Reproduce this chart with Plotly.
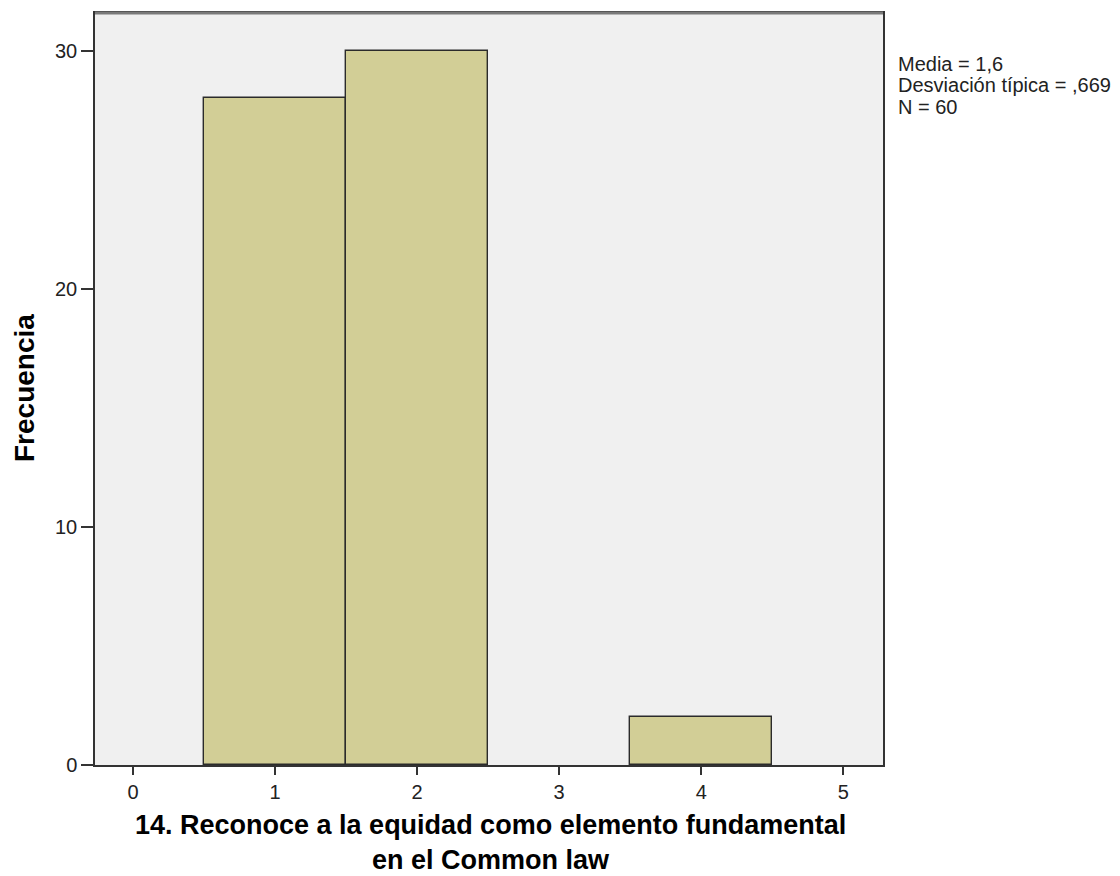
import plotly.graph_objects as go

categories = [1, 2, 4]
counts = [28, 30, 2]
x_ticks = [0, 1, 2, 3, 4, 5]
y_ticks = [0, 10, 20, 30]
stats_lines = ["Media = 1,6", "Desviación típica = ,669", "N = 60"]
x_title_lines = ["14. Reconoce a la equidad como elemento fundamental", "en el Common law"]
y_title = "Frecuencia"

FONT = "Liberation Sans, Arial, sans-serif"

# screen geometry of the plot area (page has an 8px body margin)
PL, PR, PT, PB = 95, 883, 11, 765
PW, PH = PR - PL, PB - PT


def px(xs):
    return (xs - PL) / PW


def py(ys):
    return (PB - ys) / PH


fig = go.Figure()
fig.add_trace(go.Bar(
    x=categories, y=counts, width=1,
    marker=dict(color="#D2CE96", line=dict(color="#2b2b2b", width=1.4)),
    showlegend=False, hoverinfo="x+y",
))

fig.update_layout(
    width=1112, height=868,
    margin=dict(l=PL - 8, r=1120 - PR, t=PT - 8, b=876 - PB),
    paper_bgcolor="white", plot_bgcolor="#F0F0F0",
    font=dict(family=FONT, color="#000"),
    bargap=0,
    xaxis=dict(
        range=[-0.268, 5.28], tickmode="array", tickvals=x_ticks,
        ticks="outside", ticklen=8, tickcolor="#333", tickwidth=1.5,
        showgrid=False, zeroline=False,
        showline=True, linecolor="#333", linewidth=1.5, mirror=True,
        tickfont=dict(size=20, color="#222", family=FONT),
    ),
    yaxis=dict(
        range=[0, 31.59], tickmode="array", tickvals=y_ticks,
        ticks="outside", ticklen=12, tickcolor="#333", tickwidth=1.5,
        showgrid=False, zeroline=False,
        showline=True, linecolor="#333", linewidth=1.5, mirror=True,
        tickfont=dict(size=20, color="#222", family=FONT),
    ),
)

# gray top frame line
fig.add_shape(type="line", xref="paper", yref="paper", x0=0, x1=1, y0=1, y1=1,
              line=dict(color="#7a7a7a", width=3))

# y-axis title
fig.add_annotation(xref="paper", yref="paper", x=px(24), y=py(387),
                   xanchor="center", yanchor="middle", textangle=-90, showarrow=False,
                   text="<b>" + y_title + "</b>", font=dict(size=28, color="#000", family=FONT))

# x-axis title (two lines, one text block)
fig.add_annotation(xref="paper", yref="paper", x=px(490), y=py(843),
                   xanchor="center", yanchor="middle", showarrow=False, align="center",
                   text="<br>".join("<b>" + l + "</b>" for l in x_title_lines),
                   font=dict(size=27, color="#000", family=FONT))

# statistics text
for i, line in enumerate(stats_lines):
    base = 69 + 21.5 * i
    fig.add_annotation(xref="paper", yref="paper", x=px(896), y=py(base - 7),
                       xanchor="left", yanchor="middle", showarrow=False,
                       text=line, font=dict(size=20, color="#222", family=FONT))

fig.write_html("out.html")
